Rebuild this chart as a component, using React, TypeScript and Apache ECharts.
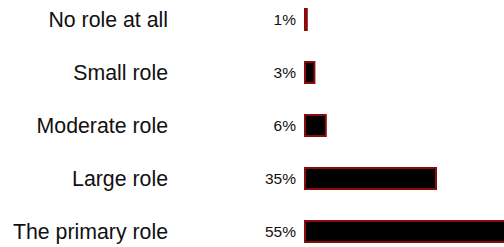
import React, { useEffect, useRef } from "react";
import * as echarts from "echarts";

const categories = ["No role at all", "Small role", "Moderate role", "Large role", "The primary role"];
const values = [1, 3, 6, 35, 55];

export default function App() {
  const ref = useRef<HTMLDivElement>(null);
  useEffect(() => {
    if (!ref.current) return;
    const chart = echarts.init(ref.current, undefined, { renderer: "svg" });
    chart.setOption({
      animation: false,
      backgroundColor: "#ffffff",
      grid: { left: 304, top: 0, width: 380, height: 265, containLabel: false },
      xAxis: { type: "value", min: 0, max: 100, show: false },
      yAxis: {
        type: "category",
        data: categories,
        inverse: true,
        axisLine: { show: false },
        axisTick: { show: false },
        splitLine: { show: false },
        axisLabel: {
          margin: 136,
          fontSize: 21.3,
          color: "#111111",
          fontFamily: "Liberation Sans, Arial, sans-serif",
        },
      },
      series: [
        {
          type: "bar",
          data: values,
          barWidth: 23,
          itemStyle: { color: "#000000", borderColor: "#8b0a0a", borderWidth: 2 },
          label: {
            show: true,
            position: "left",
            distance: 8,
            formatter: "{c}%",
            fontSize: 15.5,
            color: "#111111",
            fontFamily: "Liberation Sans, Arial, sans-serif",
          },
        },
      ],
    });
    return () => chart.dispose();
  }, []);
  return (
    <div style={{ position: "fixed", left: 0, top: 0, width: 504, height: 247, overflow: "hidden", background: "#fff" }}>
      <div ref={ref} style={{ position: "absolute", left: 0, top: -7, width: 700, height: 272 }} />
    </div>
  );
}
